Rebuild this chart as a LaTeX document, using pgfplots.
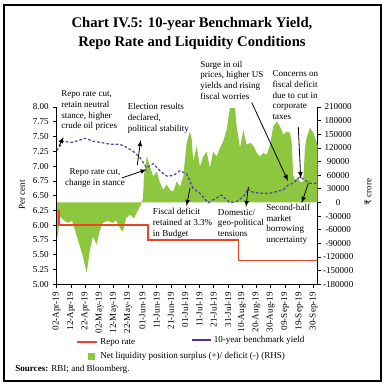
\documentclass[border=0pt]{standalone}
\usepackage{pgfplots}
\pgfplotsset{compat=1.18}
\usepackage{fontspec}
\setmainfont{Liberation Serif}
\newfontfamily\rupeefont{DejaVu Sans}
\definecolor{liqgreen}{HTML}{8DC63F}
\definecolor{repored}{HTML}{EF4123}
\definecolor{yieldpurple}{HTML}{5040A8}
\definecolor{legpurple}{HTML}{5E2D91}
\newcommand{\sm}{\fontsize{6.8}{8}\selectfont}
\pgfplotsset{
  common/.style={
    at={(42.525pt,75.525pt)}, anchor=south west, scale only axis,
    width=195.6pt, height=133pt, xmin=0, xmax=18.28,
    tick align=outside, major tick length=2.5pt,
    every tick/.style={black, line width=0.5pt},
    axis line style={line width=0.6pt},
    tick label style={font=\sm},
  }
}
\begin{document}
\begin{tikzpicture}[x=0.75pt,y=0.75pt]
\path[use as bounding box] (0,0) rectangle (384,385);
\draw[line width=0.8pt] (4,4) rectangle (381,380);
% right axis: liquidity
\begin{axis}[common,
  ymin=-180000, ymax=210000,
  axis y line*=right, axis x line=none,
  ytick={-180000,-150000,-120000,-90000,-60000,-30000,0,30000,60000,90000,120000,150000,180000,210000},
  yticklabels={-180000,-150000,-120000,-90000,-60000,-30000,0,30000,60000,90000,120000,150000,180000,210000},
  scaled y ticks=false,
  yticklabel style={anchor=center, xshift=13pt},
]
\addplot[fill=liqgreen, draw=none] coordinates {
(0.00,-75000) (0.09,-75000) (0.20,-30000) (0.44,-38000) (0.79,-45000)
(1.07,-40000) (1.28,-60000) (1.63,-97000) (1.84,-119000) (2.10,-155000)
(2.33,-104000) (2.54,-75000) (2.80,-93000) (3.03,-60000) (3.24,-45000)
(3.59,-40000) (3.88,-45000) (4.16,-40000) (4.45,-57000) (4.65,-64000)
(4.86,-35000) (5.14,-27000) (5.42,-35000) (5.70,-16000) (5.91,-5000)
(6.05,10000) (6.12,60000) (6.31,101000) (6.54,79000) (6.77,57000)
(7.01,68000) (7.24,43000) (7.47,28000) (7.71,39000) (7.94,28000)
(8.17,24000) (8.41,46000) (8.64,35000) (8.87,57000) (9.11,131000)
(9.34,156000) (9.46,140000) (9.57,90000) (9.81,123000) (10.04,79000)
(10.27,101000) (10.51,112000) (10.74,76000) (10.97,112000) (11.21,101000)
(11.44,120000) (11.67,134000) (11.91,160000) (12.14,208000) (12.50,208000)
(12.61,167000) (12.85,120000) (13.08,160000) (13.31,127000) (13.55,131000)
(13.78,125000) (14.02,109000) (14.25,101000) (14.48,109000) (14.72,105000)
(14.95,127000) (15.18,167000) (15.42,178000) (15.65,167000) (15.88,149000)
(16.12,156000) (16.35,153000) (16.47,131000) (16.58,61000) (16.70,50000)
(16.93,55000) (17.05,46000) (17.28,46000) (17.40,120000) (17.51,142000)
(17.75,164000) (17.99,153000) (18.28,127000)
} \closedcycle;
\end{axis}
% left axis: yield and repo
\begin{axis}[common,
  ymin=5, ymax=8,
  axis y line*=left, axis x line*=bottom,
  ytick={5,5.25,5.5,5.75,6,6.25,6.5,6.75,7,7.25,7.5,7.75,8},
  yticklabels={5.00,5.25,5.50,5.75,6.00,6.25,6.50,6.75,7.00,7.25,7.50,7.75,8.00},
  xtick={0,...,18},
  xticklabels={02-Apr-19,12-Apr-19,22-Apr-19,02-May-19,12-May-19,22-May-19,01-Jun-19,11-Jun-19,21-Jun-19,01-Jul-19,11-Jul-19,21-Jul-19,31-Jul-19,10-Aug-19,20-Aug-19,30-Aug-19,09-Sep-19,19-Sep-19,30-Sep-19},
  xticklabel style={rotate=90, anchor=east},
]
\addplot[repored, line width=1.2pt] coordinates {
(0,6.25) (0.18,6.25) (0.18,6.00) (6.42,6.00) (6.42,5.75) (12.73,5.75) (12.73,5.40) (18.28,5.40)
};
\addplot[yieldpurple, line width=0.9pt, dash pattern=on 2pt off 1.5pt] coordinates {
(0,7.26) (0.46,7.42) (1.05,7.40) (1.49,7.43) (1.98,7.47) (2.56,7.42) (3.10,7.40)
(3.74,7.37) (4.23,7.37) (4.67,7.35) (5.0,7.30) (5.37,7.25) (5.84,7.14) (6.31,6.97)
(6.77,7.04) (7.24,6.92) (7.71,6.83) (8.17,6.84) (8.64,6.92) (9.11,6.87) (9.57,6.62)
(10.04,6.54) (10.62,6.38) (10.97,6.43) (11.56,6.51) (12.14,6.38) (12.61,6.40)
(13.08,6.48) (13.43,6.62) (13.55,6.57) (14.25,6.54) (14.95,6.54) (15.42,6.57)
(15.88,6.60) (16.23,6.68) (16.58,6.71) (17.05,6.82) (17.40,6.76) (17.75,6.71) (18.22,6.71)
};
\end{axis}
% title
\node[font=\fontsize{11}{14.25}\selectfont\bfseries, align=center] at (192,351.5)
  {Chart IV.5: 10-year Benchmark Yield,\\Repo Rate and Liquidity Conditions};
% axis titles
\node[font=\sm, rotate=90] at (22,190) {Per cent};
\node[font=\sm, rotate=90] at (368,193) {{\rupeefont ₹} crore};
% annotations
\begin{scope}[every node/.style={font=\sm, inner sep=0pt, align=left, anchor=north west}]
\node at (61,294.5) {Repo rate cut,\\retain neutral\\stance, higher\\crude oil prices};
\node at (127.5,281.8) {Election results\\declared,\\political stability};
\node[anchor=north, align=center] at (95,216.2) {Repo rate cut,\\change in stance};
\node at (152.7,176.8) {Fiscal deficit\\retained at 3.3\%\\in Budget};
\node at (217.7,176.2) {Domestic/\\geo-political\\tensions};
\node at (266,181.2) {Second-half\\market\\borrowing\\uncertainty};
\node at (200,324.5) {Surge in oil\\prices, higher US\\yields and rising\\fiscal worries};
\node at (272.3,314.5) {Concerns on\\fiscal deficit\\due to cut in\\corporate\\taxes};
\end{scope}
\begin{scope}[-latex, line width=0.6pt]
\draw (59,239) -- (63.5,248);
\draw (137.3,220) -- (140.7,245);
\draw (121.7,207) -- (146.7,215.5);
\draw (190,197) -- (186.5,179);
\draw (248.3,198) -- (246,178);
\draw (308.3,201.7) -- (301.7,182);
\draw (251.7,282.5) -- (288,204);
\draw (298.3,258) -- (300.7,206.7);
\end{scope}
% legend
\draw[repored, line width=1.5pt] (77,42.7) -- (97,42.7);
\node[font=\sm, anchor=west, inner sep=0pt] at (100,42.7) {Repo rate};
\draw[legpurple, line width=2.2pt] (191.7,45) -- (210.7,45);
\node[font=\sm, anchor=west, inner sep=0pt] at (213.5,45) {10-year benchmark yield};
\fill[liqgreen] (88.3,25.3) rectangle (95,32.3);
\node[font=\sm, anchor=west, inner sep=0pt] at (100,29) {Net liquidity position surplus (+)/ deficit (-) (RHS)};
\node[font=\sm, anchor=west, inner sep=0pt] at (15,15.7) {\textbf{Sources:} RBI; and Bloomberg.};
\end{tikzpicture}
\end{document}
